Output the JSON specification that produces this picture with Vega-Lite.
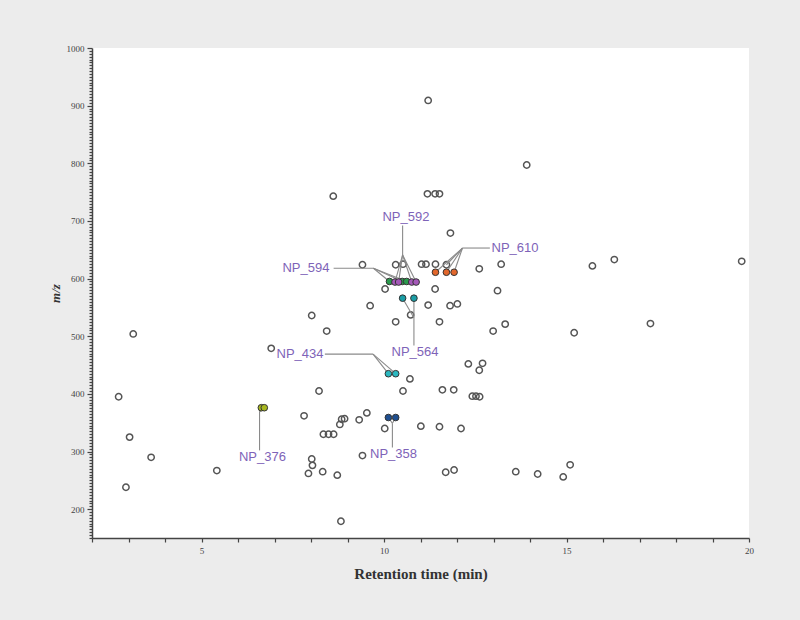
{
  "$schema": "https://vega.github.io/schema/vega-lite/v6.json",
  "width": 657,
  "height": 490,
  "autosize": {"type": "none"},
  "padding": {"left": 92, "top": 48, "right": 51, "bottom": 82},
  "background": "#ececec",
  "config": {
    "view": {"fill": "white", "stroke": null},
    "axis": {"grid": false, "domainColor": "#444", "domainWidth": 1.5, "tickColor": "#444", "tickWidth": 1.2, "labelFont": "Liberation Serif", "labelFontSize": 9, "labelColor": "#444", "titleFont": "Liberation Serif", "titleColor": "#333"}
  },
  "datasets": {
    "peaks": [
      {"rt": 3.13, "mz": 504}, {"rt": 2.73, "mz": 395}, {"rt": 3.03, "mz": 325}, {"rt": 3.62, "mz": 290},
      {"rt": 2.93, "mz": 238}, {"rt": 5.42, "mz": 267}, {"rt": 6.91, "mz": 479}, {"rt": 7.81, "mz": 362},
      {"rt": 8.02, "mz": 536}, {"rt": 8.02, "mz": 287}, {"rt": 8.04, "mz": 276}, {"rt": 7.93, "mz": 262},
      {"rt": 8.32, "mz": 265}, {"rt": 8.72, "mz": 259}, {"rt": 8.82, "mz": 179}, {"rt": 8.22, "mz": 405},
      {"rt": 8.84, "mz": 356}, {"rt": 8.92, "mz": 357}, {"rt": 8.79, "mz": 347}, {"rt": 9.32, "mz": 355},
      {"rt": 9.53, "mz": 367}, {"rt": 8.34, "mz": 330}, {"rt": 8.48, "mz": 330}, {"rt": 8.62, "mz": 330},
      {"rt": 10.02, "mz": 340}, {"rt": 9.41, "mz": 293}, {"rt": 11.01, "mz": 344}, {"rt": 11.52, "mz": 343},
      {"rt": 12.11, "mz": 340}, {"rt": 11.69, "mz": 264}, {"rt": 11.92, "mz": 268}, {"rt": 13.61, "mz": 265},
      {"rt": 14.21, "mz": 261}, {"rt": 14.91, "mz": 256}, {"rt": 15.1, "mz": 277}, {"rt": 15.21, "mz": 506},
      {"rt": 17.3, "mz": 522}, {"rt": 15.71, "mz": 622}, {"rt": 16.31, "mz": 633}, {"rt": 19.8, "mz": 630},
      {"rt": 13.91, "mz": 797}, {"rt": 13.32, "mz": 521}, {"rt": 12.99, "mz": 509}, {"rt": 12.31, "mz": 452},
      {"rt": 12.7, "mz": 453}, {"rt": 12.61, "mz": 441}, {"rt": 12.42, "mz": 396}, {"rt": 12.52, "mz": 396},
      {"rt": 12.62, "mz": 395}, {"rt": 11.6, "mz": 407}, {"rt": 11.91, "mz": 407}, {"rt": 10.52, "mz": 405},
      {"rt": 10.71, "mz": 426}, {"rt": 8.43, "mz": 509}, {"rt": 10.32, "mz": 525}, {"rt": 10.73, "mz": 537},
      {"rt": 11.52, "mz": 525}, {"rt": 9.62, "mz": 553}, {"rt": 11.21, "mz": 554}, {"rt": 11.81, "mz": 553},
      {"rt": 12.01, "mz": 556}, {"rt": 10.03, "mz": 582}, {"rt": 11.4, "mz": 582}, {"rt": 13.11, "mz": 579},
      {"rt": 12.61, "mz": 617}, {"rt": 13.21, "mz": 625}, {"rt": 11.82, "mz": 679}, {"rt": 9.41, "mz": 624},
      {"rt": 10.32, "mz": 624}, {"rt": 10.52, "mz": 625}, {"rt": 11.03, "mz": 625}, {"rt": 11.15, "mz": 625},
      {"rt": 11.41, "mz": 625}, {"rt": 11.71, "mz": 624}, {"rt": 8.61, "mz": 743}, {"rt": 11.19, "mz": 747},
      {"rt": 11.4, "mz": 747}, {"rt": 11.52, "mz": 747}, {"rt": 11.21, "mz": 909}
    ],
    "marked": [
      {"rt": 6.64, "mz": 376, "group": "NP_376"}, {"rt": 6.72, "mz": 376, "group": "NP_376"},
      {"rt": 10.12, "mz": 435, "group": "NP_434"}, {"rt": 10.32, "mz": 435, "group": "NP_434"},
      {"rt": 10.51, "mz": 566, "group": "NP_564"}, {"rt": 10.82, "mz": 566, "group": "NP_564"},
      {"rt": 10.12, "mz": 359, "group": "NP_358"}, {"rt": 10.32, "mz": 359, "group": "NP_358"},
      {"rt": 10.15, "mz": 595, "group": "NP_594"}, {"rt": 10.5, "mz": 595, "group": "NP_594"}, {"rt": 10.62, "mz": 595, "group": "NP_594"},
      {"rt": 10.3, "mz": 594, "group": "NP_592"}, {"rt": 10.4, "mz": 594, "group": "NP_592"}, {"rt": 10.76, "mz": 594, "group": "NP_592"}, {"rt": 10.88, "mz": 594, "group": "NP_592"},
      {"rt": 11.41, "mz": 611, "group": "NP_610"}, {"rt": 11.71, "mz": 611, "group": "NP_610"}, {"rt": 11.92, "mz": 611, "group": "NP_610"}
    ],
    "leaders": [
      {"x1": 8.62, "y1": 618, "x2": 9.71, "y2": 618}, {"x1": 9.71, "y1": 618, "x2": 10.15, "y2": 595}, {"x1": 9.71, "y1": 618, "x2": 10.5, "y2": 595}, {"x1": 9.71, "y1": 618, "x2": 10.62, "y2": 595},
      {"x1": 10.51, "y1": 692, "x2": 10.51, "y2": 641}, {"x1": 10.51, "y1": 641, "x2": 10.3, "y2": 594}, {"x1": 10.51, "y1": 641, "x2": 10.4, "y2": 594}, {"x1": 10.51, "y1": 641, "x2": 10.76, "y2": 594}, {"x1": 10.51, "y1": 641, "x2": 10.88, "y2": 594},
      {"x1": 12.9, "y1": 653, "x2": 12.15, "y2": 653}, {"x1": 12.15, "y1": 653, "x2": 11.41, "y2": 611}, {"x1": 12.15, "y1": 653, "x2": 11.71, "y2": 611}, {"x1": 12.15, "y1": 653, "x2": 11.92, "y2": 611}, {"x1": 12.15, "y1": 653, "x2": 11.71, "y2": 624},
      {"x1": 8.38, "y1": 469, "x2": 9.7, "y2": 469}, {"x1": 9.7, "y1": 469, "x2": 10.12, "y2": 435}, {"x1": 9.7, "y1": 469, "x2": 10.32, "y2": 435},
      {"x1": 10.82, "y1": 484, "x2": 10.82, "y2": 532}, {"x1": 10.82, "y1": 532, "x2": 10.51, "y2": 566}, {"x1": 10.82, "y1": 532, "x2": 10.82, "y2": 566},
      {"x1": 10.23, "y1": 307, "x2": 10.23, "y2": 349}, {"x1": 10.23, "y1": 349, "x2": 10.12, "y2": 359}, {"x1": 10.23, "y1": 349, "x2": 10.32, "y2": 359},
      {"x1": 6.59, "y1": 302, "x2": 6.59, "y2": 369}, {"x1": 6.59, "y1": 369, "x2": 6.64, "y2": 376}, {"x1": 6.59, "y1": 369, "x2": 6.72, "y2": 376}
    ],
    "labels": [
      {"rt": 10.6, "mz": 707, "label": "NP_592"},
      {"rt": 7.86, "mz": 618, "label": "NP_594"},
      {"rt": 13.59, "mz": 653, "label": "NP_610"},
      {"rt": 7.7, "mz": 469, "label": "NP_434"},
      {"rt": 10.85, "mz": 472, "label": "NP_564"},
      {"rt": 10.26, "mz": 296, "label": "NP_358"},
      {"rt": 6.67, "mz": 291, "label": "NP_376"}
    ]
  },
  "layer": [
    {
      "data": {"name": "peaks"},
      "mark": {"type": "point", "shape": "circle", "filled": false, "stroke": "#555", "strokeWidth": 1.5, "size": 40, "opacity": 1},
      "encoding": {
        "x": {"field": "rt", "type": "quantitative", "scale": {"domain": [2, 20], "nice": false, "zero": false},
          "axis": {"title": "Retention time (min)", "titleFontSize": 15, "titleFontWeight": "bold", "titlePadding": 11,
            "format": "d",
            "values": [2,3,4,5,6,7,8,9,10,11,12,13,14,15,16,17,18,19,20], "tickCount": 500,
            "labelOverlap": false, "labelBound": false, "labelFlush": false, "labelSeparation": 0,
            "labelExpr": "datum.value % 5 === 0 ? datum.label : ''", "tickSize": 4, "labelPadding": 4}},
        "y": {"field": "mz", "type": "quantitative", "scale": {"domain": [150, 1000], "nice": false, "zero": false},
          "axis": {"title": "m/z", "titleFontSize": 13, "titleFontWeight": "bold", "titleFontStyle": "italic", "titlePadding": 4,
            "format": "d", "tickCount": 500,
            "labelOverlap": false, "labelBound": false, "labelFlush": false, "labelSeparation": 0,
            "values": [150,155,160,165,170,175,180,185,190,195,200,205,210,215,220,225,230,235,240,245,250,255,260,265,270,275,280,285,290,295,300,305,310,315,320,325,330,335,340,345,350,355,360,365,370,375,380,385,390,395,400,405,410,415,420,425,430,435,440,445,450,455,460,465,470,475,480,485,490,495,500,505,510,515,520,525,530,535,540,545,550,555,560,565,570,575,580,585,590,595,600,605,610,615,620,625,630,635,640,645,650,655,660,665,670,675,680,685,690,695,700,705,710,715,720,725,730,735,740,745,750,755,760,765,770,775,780,785,790,795,800,805,810,815,820,825,830,835,840,845,850,855,860,865,870,875,880,885,890,895,900,905,910,915,920,925,930,935,940,945,950,955,960,965,970,975,980,985,990,995,1000],
            "labelExpr": "datum.value % 100 === 0 ? datum.label : ''",
            "tickSize": {"condition": {"test": "datum.value % 100 === 0", "value": 5}, "value": 3},
            "labelPadding": 3}}
      }
    },
    {
      "data": {"name": "leaders"},
      "mark": {"type": "rule", "color": "#8a8a8a", "strokeWidth": 1.1},
      "encoding": {
        "x": {"field": "x1", "type": "quantitative"},
        "y": {"field": "y1", "type": "quantitative"},
        "x2": {"field": "x2"},
        "y2": {"field": "y2"}
      }
    },
    {
      "data": {"name": "marked"},
      "mark": {"type": "point", "shape": "circle", "filled": true, "stroke": "#333", "strokeWidth": 1, "size": 44, "opacity": 1},
      "encoding": {
        "x": {"field": "rt", "type": "quantitative"},
        "y": {"field": "mz", "type": "quantitative"},
        "fill": {"field": "group", "type": "nominal", "legend": null,
          "scale": {"domain": ["NP_376", "NP_434", "NP_564", "NP_358", "NP_594", "NP_592", "NP_610"],
            "range": ["#a8b820", "#2bb8c0", "#1a9ea6", "#1f4f90", "#2a9a4c", "#a458b8", "#e2672c"]}}
      }
    },
    {
      "data": {"name": "labels"},
      "mark": {"type": "text", "font": "Liberation Sans", "fontSize": 13, "color": "#7e63b8", "align": "center", "baseline": "middle"},
      "encoding": {
        "x": {"field": "rt", "type": "quantitative"},
        "y": {"field": "mz", "type": "quantitative"},
        "text": {"field": "label"}
      }
    }
  ]
}
